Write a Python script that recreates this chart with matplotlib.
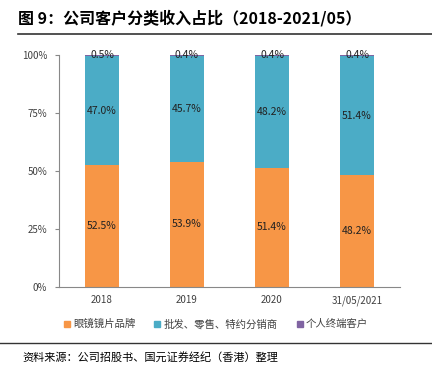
import matplotlib
matplotlib.use("Agg")
import matplotlib.pyplot as plt
from matplotlib.lines import Line2D
import numpy as np

plt.rcParams['font.family'] = ['Noto Sans CJK SC', 'DejaVu Sans']

categories = ['2018', '2019', '2020', '31/05/2021']
brand = [52.5, 53.9, 51.4, 48.2]
distributor = [47.0, 45.7, 48.2, 51.4]
individual = [0.5, 0.4, 0.4, 0.4]
series_names = ['眼镜镜片品牌', '批发、零售、特约分销商', '个人终端客户']
colors = ['#F79646', '#4BACC6', '#8064A2']

fig = plt.figure(figsize=(4.32, 3.73), dpi=100)
ax = fig.add_axes([0.1377, 0.2306, 0.7871, 0.6219])

x = np.arange(len(categories))
w = 0.4
ax.bar(x, brand, w, color=colors[0], label=series_names[0])
ax.bar(x, distributor, w, bottom=brand, color=colors[1], label=series_names[1])
bottom3 = np.array(brand) + np.array(distributor)
ax.bar(x, individual, w, bottom=bottom3, color=colors[2], label=series_names[2])

for i in range(len(categories)):
    ax.text(x[i], brand[i] / 2, f'{brand[i]:.1f}%', ha='center', va='center', fontsize=7.5, color='#222222')
    ax.text(x[i], brand[i] + distributor[i] / 2, f'{distributor[i]:.1f}%', ha='center', va='center', fontsize=7.5, color='#222222')
    ax.text(x[i], 100, f'{individual[i]:.1f}%', ha='center', va='center', fontsize=7.5, color='#222222')

ax.set_xlim(-0.5, len(categories) - 0.5)
ax.set_ylim(0, 100)
ax.set_yticks([0, 25, 50, 75, 100])
ax.set_yticklabels(['0%', '25%', '50%', '75%', '100%'], fontsize=7, color='#404040')
ax.set_xticks(x)
ax.set_xticklabels(categories, fontsize=7, color='#404040')
ax.tick_params(axis='x', length=0, pad=6)
ax.tick_params(axis='y', length=3, color='#888888', pad=6)
for s in ['top', 'right']:
    ax.spines[s].set_visible(False)
for s in ['left', 'bottom']:
    ax.spines[s].set_color('#888888')
    ax.spines[s].set_linewidth(0.8)

handles = [Line2D([0], [0], marker='s', linestyle='', markersize=4.5, markerfacecolor=c, markeredgecolor=c) for c in colors]
fig.legend(handles, series_names, loc='center', bbox_to_anchor=(0.5, 1 - 324 / 373), ncol=3,
           frameon=False, fontsize=7.5, handlelength=0.6, handletextpad=0.3, columnspacing=1.8,
           labelcolor='#404040')

fig.text(18 / 432, 1 - 18 / 373, '图 9：公司客户分类收入占比（2018-2021/05）', fontsize=11.5,
         fontweight='bold', va='center', ha='left', color='black')
fig.add_artist(Line2D([18 / 432, 1.0], [1 - 34 / 373, 1 - 34 / 373], color='#333333', linewidth=1.2))
fig.add_artist(Line2D([0.0, 1.0], [1 - 343 / 373, 1 - 343 / 373], color='#333333', linewidth=1.0))
fig.text(22 / 432, 1 - 357 / 373, '资料来源：公司招股书、国元证券经纪（香港）整理', fontsize=8,
         style='italic', va='center', ha='left', color='black')

fig.savefig('out.png', dpi=100)
